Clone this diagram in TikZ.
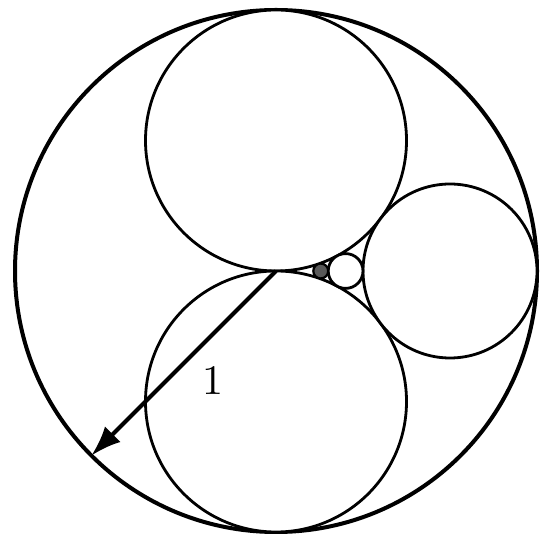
\documentclass[tikz,border=0pt]{standalone}
\usetikzlibrary{arrows.meta,calc}
\begin{document}
\begin{tikzpicture}[x=1pt,y=1pt,
  outer/.style={draw=black,line width=4pt},
  inner/.style={draw=black,line width=2.8pt,fill=white},
  radarrow/.style={line width=4pt,-{Latex[length=30pt,width=22pt]}}]
\useasboundingbox (0,0) rectangle (551,543);
\coordinate (O) at (276,272);
\draw[outer] (O) circle (261pt);
\draw[inner] (276,402.5) circle (130.5pt);
\draw[inner] (276,141.5) circle (130.5pt);
\draw[inner] (450,272) circle (87pt);
\draw[inner] (345.6,272) circle (17.4pt);
\draw[draw=black,line width=2.2pt,fill=black!65] (320.74,272) circle (7.46pt);
\coordinate (E) at ($(O)+(225:261pt)$);
\draw[radarrow] (O) -- (E);
\node[scale=4.2,inner sep=0pt] (lab) at (213,162) {1};
\end{tikzpicture}
\end{document}
